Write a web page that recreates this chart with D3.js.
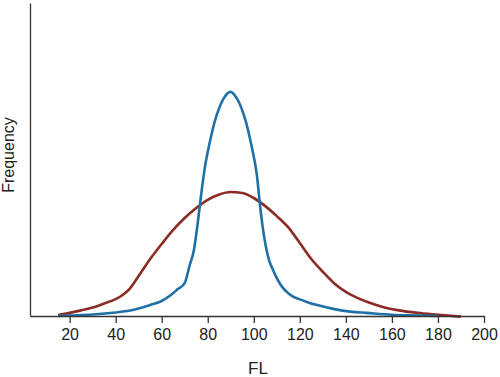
<!DOCTYPE html>
<html lang="en">
<head>
  <meta charset="UTF-8">
  <title>FL Frequency</title>
  <script src="https://cdnjs.cloudflare.com/ajax/libs/d3/7.8.5/d3.min.js"></script>
  <style>
    * { margin: 0; padding: 0; }
    body { background: #fff; width: 500px; height: 377px; overflow: hidden; }
    svg text { font-family: "Liberation Sans", Arial, Helvetica, sans-serif; fill: #222; }
  </style>
</head>
<body>
<div id="chart"></div>
<script>
  // FL values for the narrow (blue) distribution and its frequencies
  const blueFL   = [15, 20, 30, 40, 45, 50, 55, 60, 64, 67, 70, 72, 74, 75.5, 76.7, 78.2, 79, 80, 81.5, 83, 85, 87, 89.8,
                    92.6, 94.6, 96.6, 98.1, 99.6, 100.6, 101.4, 102.6, 103.8, 105.2, 106.5, 108, 110, 112.3, 115, 117.3,
                    120, 123, 128, 135, 142, 149, 160, 171, 180];
  const blueFreq = [0, 0.16, 0.48, 1.12, 1.6, 2.4, 3.5, 4.8, 6.7, 8.6, 10.5, 15.8, 21.1, 28.8, 36.1, 44.7, 48.6, 52.4, 57.5, 62, 66.5, 69.6, 71.6,
                    69.6, 66.5, 62, 57.5, 52.4, 48.6, 44.7, 36.1, 28.8, 22.4, 18.2, 15.3, 12.1, 9.3, 7.3, 6.1,
                    5.3, 4.5, 3.4, 2.2, 1.4, 1, 0.4, 0.16, 0];

  // FL values for the wide (red) distribution and its frequencies
  const redFL   = [15, 20, 25, 30, 35, 40, 43, 46, 50, 55, 60, 65, 70, 75, 80, 85, 90, 95, 100, 105, 110, 115,
                   120, 125, 130, 135, 140, 145, 150, 156, 163, 171, 180, 190];
  const redFreq = [0.3, 1, 1.8, 2.7, 4, 5.4, 6.7, 8.6, 12.8, 18.2, 23, 27.5, 31.3, 34.5, 37.1, 38.8, 39.6, 39.3, 37.7, 35.1, 31.9, 28.3,
                   23.3, 18.2, 14.1, 10.4, 7.7, 5.8, 4.3, 2.9, 1.8, 1, 0.4, -0.2];

  const xTicks = [20, 40, 60, 80, 100, 120, 140, 160, 180, 200];

  const width = 500, height = 377;
  const plotLeft = 30, plotRight = 484, plotTop = 3, plotBottom = 316;

  const svg = d3.select("#chart").append("svg")
    .attr("width", width)
    .attr("height", height);

  const x = d3.scaleLinear().domain([2.8, 200]).range([plotLeft, plotRight]);
  const y = d3.scaleLinear().domain([0, 100]).range([plotBottom, plotTop]);

  const line = d3.line()
    .x(d => x(d[0]))
    .y(d => y(d[1]))
    .curve(d3.curveMonotoneX);

  svg.append("path")
    .datum(d3.zip(redFL, redFreq))
    .attr("d", line)
    .attr("fill", "none")
    .attr("stroke", "#8c2b24")
    .attr("stroke-width", 2.6);

  svg.append("path")
    .datum(d3.zip(blueFL, blueFreq))
    .attr("d", line)
    .attr("fill", "none")
    .attr("stroke", "#1f70a6")
    .attr("stroke-width", 2.6);

  // x axis
  const xAxis = svg.append("g")
    .attr("transform", `translate(0,${plotBottom})`)
    .call(d3.axisBottom(x).tickValues(xTicks).tickSize(7).tickSizeOuter(0).tickPadding(6));
  xAxis.selectAll("path, line").attr("stroke", "#333").attr("stroke-width", 1.3);
  xAxis.selectAll("text")
    .attr("font-size", "16px")
    .attr("font-family", "'Liberation Sans', Arial, sans-serif")
    .attr("fill", "#222");

  // y axis: bare line
  const yAxis = svg.append("g")
    .attr("transform", `translate(${plotLeft},0)`)
    .call(d3.axisLeft(y).tickValues([]).tickSizeOuter(0));
  yAxis.selectAll("path").attr("stroke", "#333").attr("stroke-width", 1.3);

  svg.append("text")
    .attr("x", 258)
    .attr("y", 374)
    .attr("text-anchor", "middle")
    .attr("font-size", "17px")
    .text("FL");

  svg.append("text")
    .attr("transform", "translate(14,155) rotate(-90)")
    .attr("text-anchor", "middle")
    .attr("font-size", "16px")
    .text("Frequency");
</script>
</body>
</html>
